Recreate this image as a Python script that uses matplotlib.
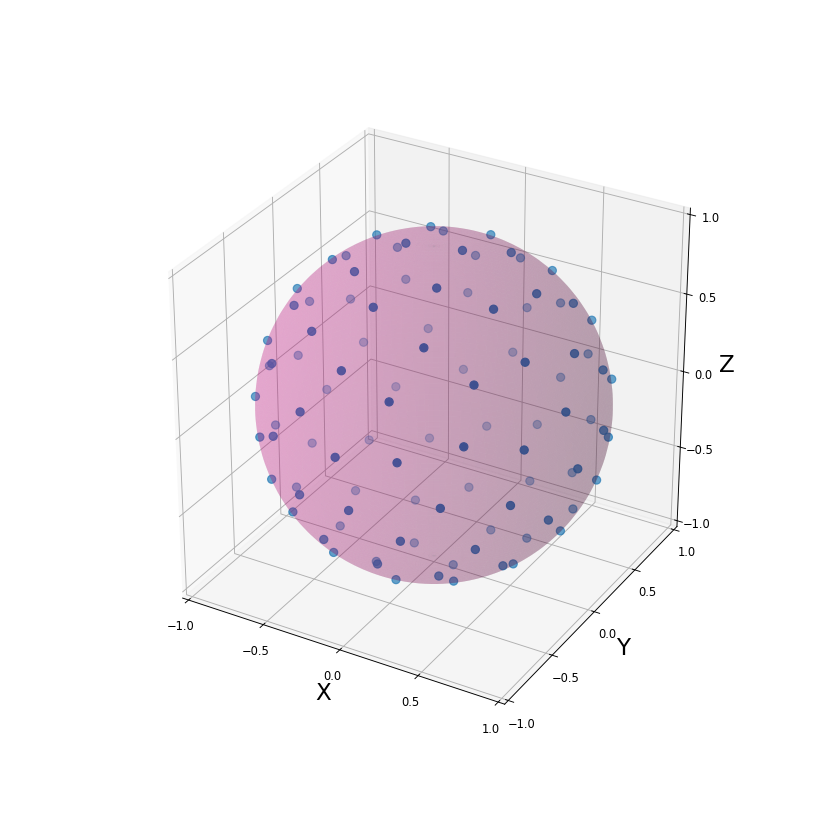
import numpy as np
import matplotlib
matplotlib.use("Agg")
import matplotlib.pyplot as plt

# 球面上的点，从图上读出来的
xs = [-0.49,-0.24,-0.16,-0.57,-0.61,-0.73,-0.32,-0.61,-0.80,-0.93,-0.67,-0.84,-0.07,0.19,-0.40,-0.87,-0.53,-0.81,0.29,-0.99,-0.65,-0.98,-0.11,-0.85,-0.90,
      -0.64,0.21,-0.28,0.06,0.15,-0.21,0.30,0.11,0.41,-0.31,0.58,0.32,0.65,0.49,0.05,0.67,-0.04,0.73,0.84,0.53,0.89,0.86,-0.32,0.58,0.31,
      -0.32,-0.93,-0.71,-0.53,-0.85,-0.67,-0.40,-0.04,0.31,-0.62,-0.74,-0.31,-0.59,-0.31,-0.44,0.04,-0.50,-0.21,-0.21,0.31,-0.16,-0.20,0.11,0.12,0.93,
      0.61,0.99,0.97,-0.11,0.21,0.61,0.84,0.99,0.58,0.94,0.29,-0.07,0.53,0.81,0.74,0.90,0.20,0.84,0.49,0.64,0.15,0.67,0.68,0.40,0.42]
ys = [0.21,0.38,-0.03,0.57,-0.07,0.27,-0.31,0.73,-0.14,0.19,-0.38,0.49,-0.53,-0.30,-0.63,-0.35,0.85,0.58,-0.61,0.15,-0.65,-0.17,-0.80,-0.52,0.31,
      0.66,-0.84,0.59,0.53,0.05,0.84,0.33,0.79,0.61,0.93,0.11,0.89,0.41,-0.21,0.99,0.60,0.99,-0.29,0.07,0.84,0.32,0.49,0.90,-0.58,0.93,
      -0.89,-0.20,-0.70,-0.84,0.06,0.40,0.64,-0.99,-0.93,-0.73,-0.29,-0.93,0.11,0.32,-0.80,-0.99,-0.21,-0.85,-0.75,-0.90,0.05,-0.31,-0.81,-0.63,-0.19,
      0.74,0.15,0.25,0.81,0.84,-0.74,-0.49,-0.15,0.58,0.18,0.61,0.53,-0.85,-0.58,0.29,-0.31,0.31,-0.05,0.21,-0.66,-0.04,-0.40,-0.30,-0.64,-0.51]
zs = [0.85,0.89,0.99,0.59,0.79,0.63,0.90,0.30,0.59,0.32,0.63,0.22,0.85,0.93,0.66,0.34,-0.06,-0.10,0.74,-0.03,0.40,0.06,0.58,0.07,-0.31,
      -0.39,0.50,0.76,0.85,0.99,0.51,0.89,0.60,0.68,0.20,0.81,0.32,0.63,0.84,0.17,0.44,-0.15,0.62,0.53,0.07,0.32,0.17,-0.30,0.58,-0.19,
      0.31,-0.30,-0.06,0.07,-0.53,-0.63,-0.66,0.16,0.20,-0.29,-0.61,-0.19,-0.80,-0.89,-0.41,-0.15,-0.84,-0.49,-0.63,-0.31,-0.99,-0.93,-0.57,-0.77,0.32,
      -0.29,0.05,-0.05,-0.58,-0.49,0.29,0.21,-0.04,-0.57,-0.30,-0.73,-0.84,-0.06,-0.10,-0.61,-0.31,-0.93,-0.54,-0.84,-0.39,-0.99,-0.63,-0.67,-0.65,-0.75]
tick_vals = [-1.0, -0.5, 0.0, 0.5, 1.0]

fig = plt.figure(figsize=(10, 10), dpi=83)
ax = fig.add_axes([0.1337, 0.1253, 0.758, 0.753], projection="3d")
ax.computed_zorder = False

# 单位球面
u = np.linspace(0, 2*np.pi, 100)
v = np.linspace(0, np.pi, 100)
sx = np.outer(np.cos(u), np.sin(v))
sy = np.outer(np.sin(u), np.sin(v))
sz = np.outer(np.ones_like(u), np.cos(v))

ax.scatter(xs, ys, zs, color="tab:blue", s=50, zorder=1)
ax.plot_surface(sx, sy, sz, color="mediumvioletred", alpha=0.2, rstride=1, cstride=1, zorder=2)

ax.set_xlim(-1.04, 1.04)
ax.set_ylim(-1.04, 1.04)
ax.set_zlim(-1.04, 1.04)
ax.set_xticks(tick_vals)
ax.set_yticks(tick_vals)
ax.set_zticks(tick_vals)
ax.set_box_aspect((1, 1, 1))
ax.set_xlabel("X", fontsize=20)
ax.set_ylabel("Y", fontsize=20)
ax.set_zlabel("Z", fontsize=20)

plt.savefig("out.png")
